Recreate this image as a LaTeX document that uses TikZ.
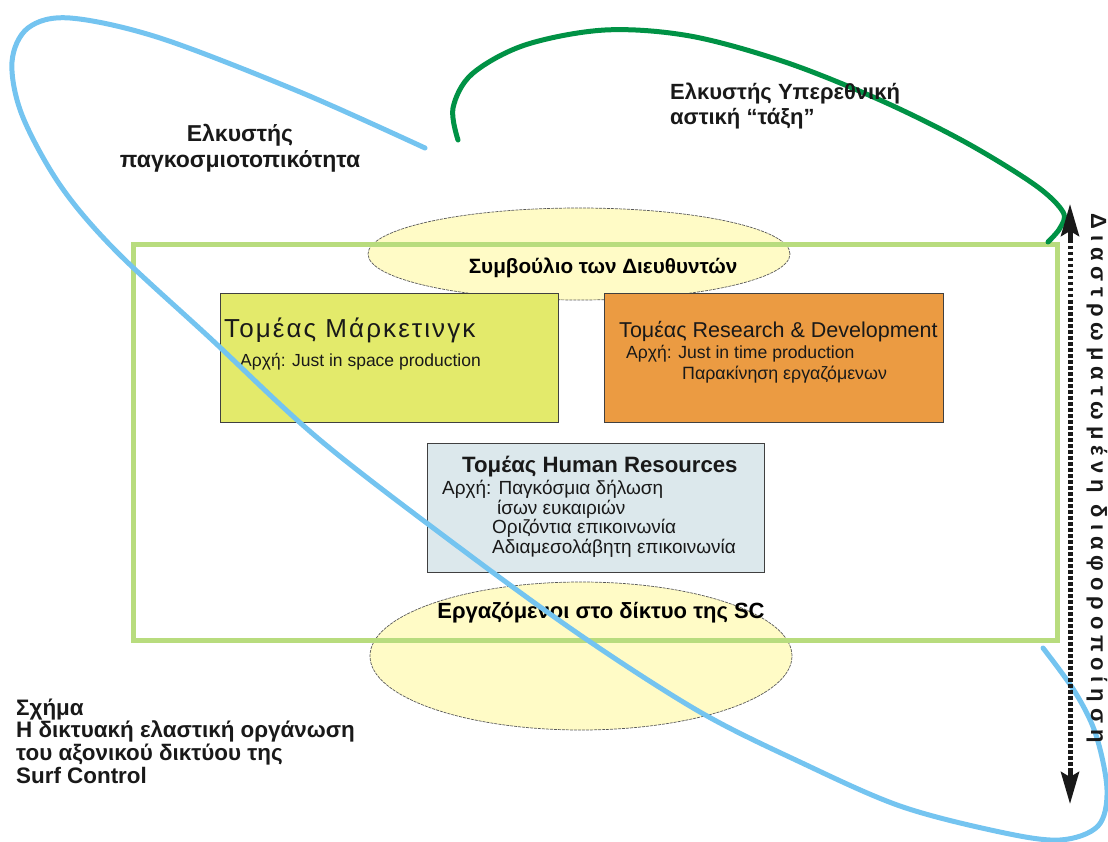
\documentclass[tikz,border=0pt]{standalone}
\usepackage{fontspec}
\setmainfont{Liberation Sans}
\usetikzlibrary{shapes.geometric,arrows.meta}
\definecolor{skyblue}{HTML}{74C4F0}
\definecolor{darkgr}{HTML}{009245}
\definecolor{framegr}{HTML}{B8DC7E}
\definecolor{ellfill}{HTML}{FFFBC6}
\definecolor{mktfill}{HTML}{E3EA6B}
\definecolor{rdfill}{HTML}{EB9B42}
\definecolor{hrfill}{HTML}{DCE8EC}
\tikzset{
  ell/.style={ellipse, fill=ellfill, draw=black!65, line width=0.7pt, dash pattern=on 3pt off 1pt, inner sep=0pt},
  sector/.style={rectangle, draw=black!75, line width=0.8pt, inner sep=0pt, anchor=north west},
  txt/.style={inner sep=0pt, anchor=west, text=black!90},
  lbl/.style={inner sep=0pt, font=\fontsize{20}{24}\selectfont\bfseries, text=black!90},
  curve/.style={line width=5pt, line cap=round},
  headtip/.style={line width=5pt, black!90, -{Stealth[length=32pt,width=18pt,inset=5pt]}},
}
\begin{document}
\begin{tikzpicture}[x=1pt,y=-1pt]
\useasboundingbox (0,0) rectangle (1108,842);
% ellipses
\node[ell, minimum width=422pt, minimum height=92pt] (board) at (579,254) {};
\node[ell, minimum width=422pt, minimum height=148pt] (staff) at (581,656) {};
% sector boxes
\node[sector, fill=mktfill, minimum width=338pt, minimum height=129pt] (mkt) at (220,293) {};
\node[sector, fill=rdfill, minimum width=339pt, minimum height=129pt] (rd) at (604,293) {};
\node[sector, fill=hrfill, minimum width=337pt, minimum height=129pt] (hr) at (427,443) {};
% ellipse texts
\node[inner sep=0pt, font=\fontsize{20.7}{22}\selectfont\bfseries] (boardt) at (603,268) {Συμβούλιο των Διευθυντών};
\node[inner sep=0pt, font=\fontsize{22}{24}\selectfont\bfseries] (stafft) at (601,613) {Εργαζόμενοι στο δίκτυο της SC};
% box texts
\node[txt, font=\fontsize{26}{28}\selectfont\addfontfeature{LetterSpace=8}] (mkt1) at (224,330) {Τομέας Μάρκετινγκ};
\node[txt, font=\fontsize{17.5}{19}\selectfont] (mkt2) at (240,362) {Αρχή: Just in space production};
\node[txt, font=\fontsize{21.5}{25}\selectfont] (rd1) at (619,332) {Τομέας Research \& Development};
\node[txt, font=\fontsize{17.6}{19}\selectfont] (rd2) at (626,354) {Αρχή: Just in time production};
\node[txt, font=\fontsize{17.8}{19}\selectfont] (rd3) at (682,375) {Παρακίνηση εργαζόμενων};
\node[txt, font=\fontsize{22.2}{25}\selectfont\bfseries] (hr1) at (462,467) {Τομέας Human Resources};
\node[txt, font=\fontsize{19}{20}\selectfont] (hr2) at (442,489) {Αρχή: Παγκόσμια δήλωση};
\node[txt, font=\fontsize{19}{20}\selectfont] (hr3) at (497,509) {ίσων ευκαιριών};
\node[txt, font=\fontsize{19}{20}\selectfont] (hr4) at (492,528) {Οριζόντια επικοινωνία};
\node[txt, font=\fontsize{19}{20}\selectfont] (hr5) at (492,548) {Αδιαμεσολάβητη επικοινωνία};
% frame
\node[draw=framegr, line width=5pt, minimum width=924pt, minimum height=395pt, inner sep=0pt] (frame) at (595,442.5) {};
% blue orbit
\draw[curve, skyblue] plot[smooth, tension=0.55] coordinates {
 (425,148) (300,92) (160,38) (70,18) (28,28) (12,62) (22,115) (60,185) (115,250)
 (210,338) (320,440) (460,548) (583,637) (700,712) (800,762) (900,806) (1000,832)
 (1060,840) (1098,826) (1107,790) (1096,735) (1075,692) (1043,648)};
% green orbit
\draw[curve, darkgr] plot[smooth, tension=0.55] coordinates {
 (458,140) (453,108) (472,74) (525,45) (605,30) (690,36) (785,62) (880,100)
 (965,142) (1035,185) (1063,212) (1060,228) (1048,242)};
% arrow
\coordinate (atop) at (1070,204);
\coordinate (atopb) at (1070,240);
\coordinate (abot) at (1070,804);
\coordinate (abotb) at (1070,768);
\draw[line width=5pt, dash pattern=on 3.5pt off 2.5pt, black!90] (atopb) -- (abotb);
\draw[headtip] (atopb) -- (atop);
\draw[headtip] (abotb) -- (abot);
\node[lbl, rotate=-90, font=\fontsize{22}{24}\selectfont\bfseries\addfontfeature{LetterSpace=27}] (strat) at (1097,478) {Διαστρωματωμένη διαφοροποίηση};
% labels
\node[lbl, align=center, font=\fontsize{23}{26}\selectfont\bfseries] (glocal) at (240,148) {Ελκυστής\\παγκοσμιοτοπικότητα};
\node[lbl, align=left, anchor=west, font=\fontsize{22}{25}\selectfont\bfseries] (supra) at (670,106) {Ελκυστής Υπερεθνική\\αστική “τάξη”};
\node[lbl, align=left, anchor=west, font=\fontsize{22.4}{22.7}\selectfont\bfseries] (caption) at (16,741) {Σχήμα\\Η δικτυακή ελαστική οργάνωση\\του αξονικού δικτύου της\\Surf Control};
\end{tikzpicture}
\end{document}
